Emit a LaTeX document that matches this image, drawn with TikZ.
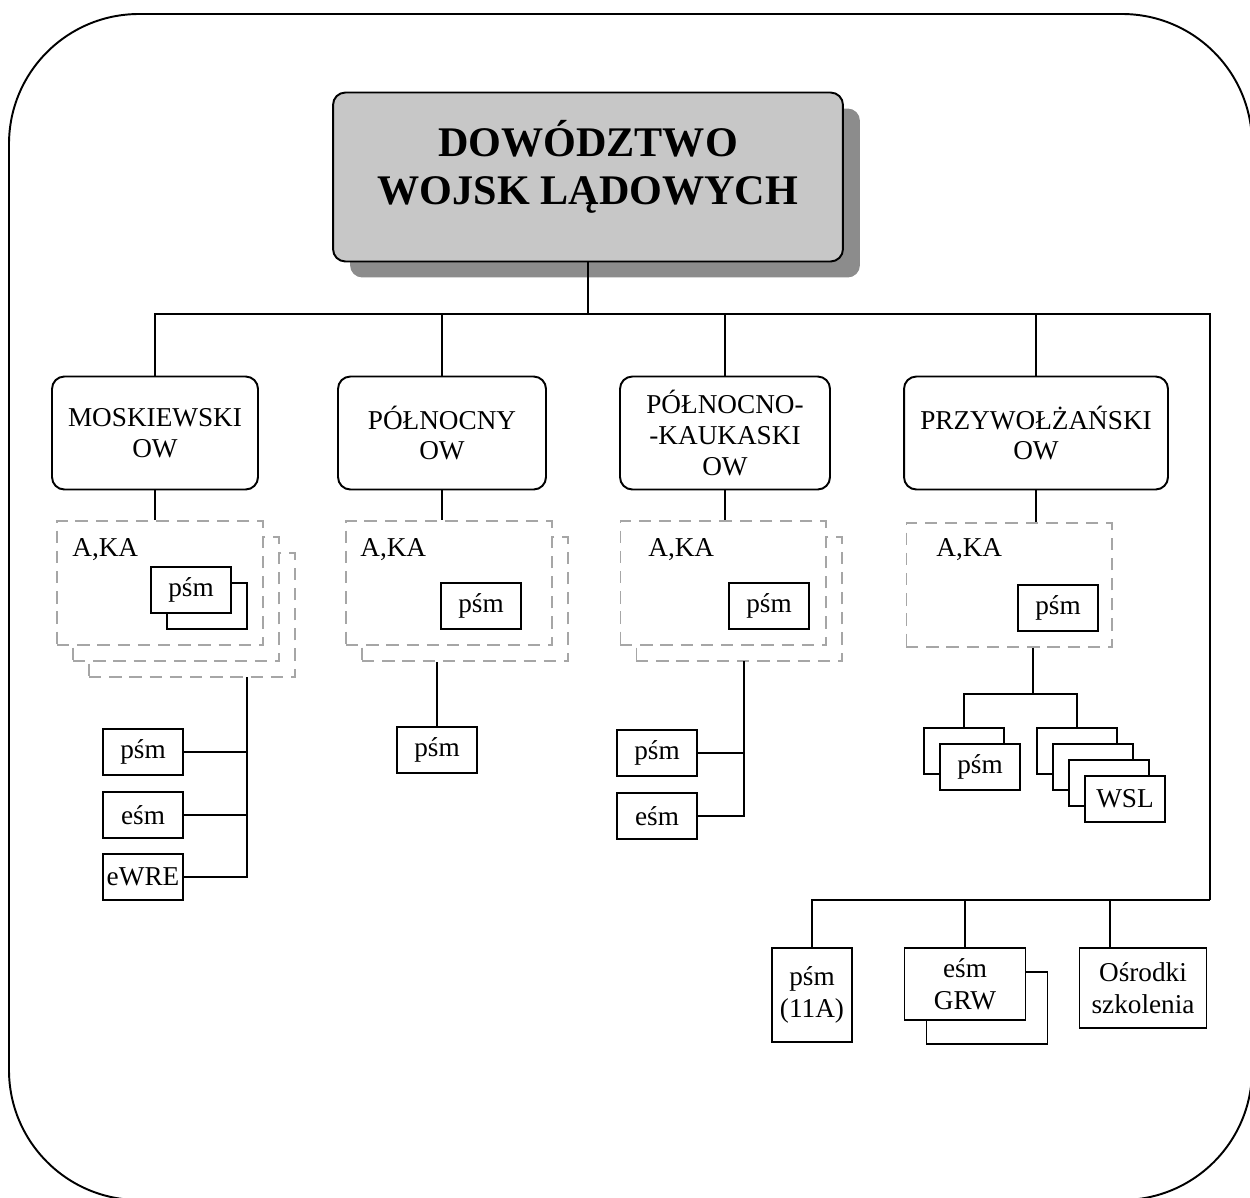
\documentclass[tikz,border=0pt]{standalone}
\usepackage{fontspec}
\setmainfont{Liberation Serif}
\usetikzlibrary{shadows}
\colorlet{hqFill}{black!22}
\colorlet{hqShadow}{black!45}
\colorlet{armyLine}{black!35}
\tikzset{
  hq/.style={draw,line width=1.1pt,rounded corners=7pt,fill=hqFill,
    minimum width=10.2cm,minimum height=3.38cm,
    drop shadow={shadow xshift=0.34cm,shadow yshift=-0.32cm,fill=hqShadow,opacity=1}},
  hqText/.style={align=center,inner sep=0pt,font=\fontsize{24}{27.5}\selectfont\bfseries},
  okreg/.style={draw,line width=1.1pt,rounded corners=7pt,fill=white,
    minimum height=2.26cm,align=center,font=\fontsize{15.5}{17.6}\selectfont},
  armia/.style={draw=armyLine,line width=0.6pt,dash pattern=on 7pt off 4.5pt,
    fill=white,minimum width=4.12cm,minimum height=2.48cm},
  unit/.style={draw,line width=1.1pt,fill=white,minimum width=1.6cm,
    minimum height=0.92cm,inner sep=1pt,align=center,
    font=\fontsize{15.5}{18.5}\selectfont},
  tag/.style={anchor=base west,inner sep=0pt,font=\fontsize{15.5}{17.6}\selectfont},
  link/.style={line width=1.1pt}
}

\begin{document}
\begin{tikzpicture}[x=0.02cm,y=-0.02cm]
\useasboundingbox (0,0) rectangle (1250,1197);
\draw[line width=1.1pt,rounded corners=2.6cm] (9,14) rectangle (1252,1200);

% dowodztwo
\node[hq] (dwl) at (588,177) {};
\node[hqText] (dwlText) at (588,167) {DOWÓDZTWO\\WOJSK LĄDOWYCH};
\coordinate (bus) at (588,314);
\coordinate (rightBus) at (1210,314);
\coordinate (lowBus) at (1210,900);

% okregi wojskowe
\node[okreg,minimum width=4.12cm] (ms) at (155,433) {MOSKIEWSKI\\OW};
\node[okreg,minimum width=4.16cm] (pn) at (442,433) {PÓŁNOCNY\\OW};
\node[okreg,minimum width=4.2cm] (pk) at (725,433) {PÓŁNOCNO-\\-KAUKASKI\\OW};
\node[okreg,minimum width=5.28cm] (pw) at (1036,433) {PRZYWOŁŻAŃSKI\\OW};

\draw[link] (dwl.south) -- (bus);
\draw[link] (ms.north) -- (ms.north |- bus) -- (rightBus) -- (lowBus);
\draw[link] (pn.north) -- (pn.north |- bus);
\draw[link] (pk.north) -- (pk.north |- bus);
\draw[link] (pw.north) -- (pw.north |- bus);

% armie
\node[armia] (msA3) at (192,615) {};
\node[armia] (msA2) at (176,599) {};
\node[armia] (msA) at (160,583) {};
\node[armia] (pnA2) at (465,599) {};
\node[armia] (pnA) at (449,583) {};
\node[armia] (pkA2) at (739,599) {};
\node[armia] (pkA) at (723,583) {};
\node[armia] (pwA) at (1009,585) {};

\node[tag] (msTag) at (72,556) {A,KA};
\node[tag] (pnTag) at (360,556) {A,KA};
\node[tag] (pkTag) at (648,556) {A,KA};
\node[tag] (pwTag) at (936,556) {A,KA};

\node[unit] (msIn2) at (207,606) {};
\node[unit] (msIn) at (191,590) {pśm};
\node[unit] (pnIn) at (481,606) {pśm};
\node[unit] (pkIn) at (769,606) {pśm};
\node[unit] (pwIn) at (1058,608) {pśm};

\draw[link] (ms.south) -- (ms.south |- msA.north);
\draw[link] (pn.south) -- (pn.south |- pnA.north);
\draw[link] (pk.south) -- (pk.south |- pkA.north);
\draw[link] (pw.south) -- (pw.south |- pwA.north);

% moskiewski
\coordinate (msSpine) at (247,677);
\node[unit] (msB1) at (143,752) {pśm};
\node[unit] (msB2) at (143,815) {eśm};
\node[unit] (msB3) at (143,877) {eWRE};
\draw[link] (msSpine) |- (msB3.east);
\draw[link] (msB1.east) -- (msB1.east -| msSpine);
\draw[link] (msB2.east) -- (msB2.east -| msSpine);

% polnocny
\node[unit] (pnB) at (437,750) {pśm};
\draw[link] (pnB.north) -- (pnB.north |- pnA2.south);

% polnocno-kaukaski
\coordinate (pkSpine) at (744,661);
\node[unit] (pkB1) at (657,753) {pśm};
\node[unit] (pkB2) at (657,816) {eśm};
\draw[link] (pkSpine) |- (pkB2.east);
\draw[link] (pkB1.east) -- (pkB1.east -| pkSpine);

% przywolzanski
\coordinate (pwFork) at (1033,694);
\node[unit] (pwL1) at (964,751) {};
\node[unit] (pwL2) at (980,767) {pśm};
\node[unit] (pwR1) at (1077,751) {};
\node[unit] (pwR2) at (1093,767) {};
\node[unit] (pwR3) at (1109,783) {};
\node[unit] (pwR4) at (1125,799) {WSL};
\draw[link] (pwA.south -| pwFork) -- (pwFork);
\draw[link] (pwL1.north) -- (pwL1.north |- pwFork) -- (pwR1.north |- pwFork) -- (pwR1.north);

% jednostki okregowe
\node[unit,minimum height=1.88cm] (p11) at (812,995) {pśm\\(11A)};
\node[unit,minimum width=2.42cm,minimum height=1.44cm] (grw2) at (987,1008) {};
\node[unit,minimum width=2.42cm,minimum height=1.44cm] (grw) at (965,984) {eśm\\GRW};
\node[unit,minimum width=2.54cm,minimum height=1.6cm] (os) at (1143,988) {Ośrodki\\szkolenia};
\coordinate (osDrop) at ([xshift=-0.66cm]os.north);
\draw[link] (lowBus) -- (lowBus -| p11.north) -- (p11.north);
\draw[link] (grw.north) -- (grw.north |- lowBus);
\draw[link] (osDrop) -- (osDrop |- lowBus);
\end{tikzpicture}
\end{document}
